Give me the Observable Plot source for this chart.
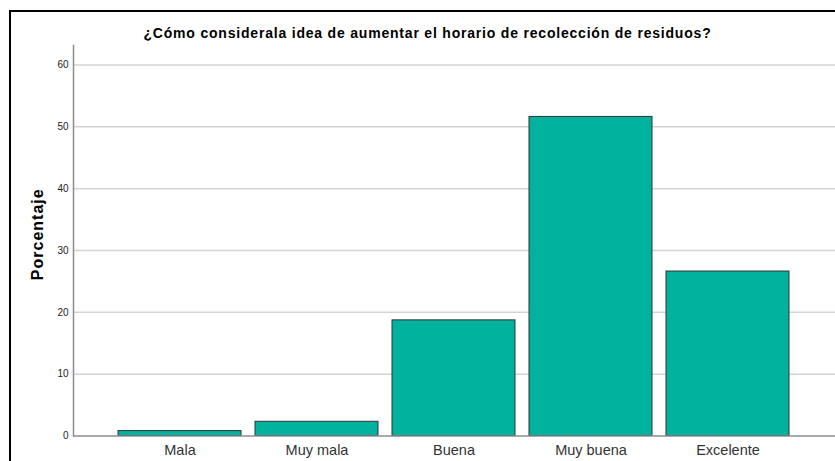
<!DOCTYPE html>
<html>
<head>
<meta charset="utf-8">
<script src="https://cdn.jsdelivr.net/npm/d3@7"></script>
<script src="https://cdn.jsdelivr.net/npm/@observablehq/plot@0.6"></script>
<style>
  html, body { margin: 0; padding: 0; background: #fff; }
  #wrap { position: relative; width: 835px; height: 461px; overflow: hidden; }
  #border { position: absolute; left: 9px; top: 10px; width: 900px; height: 500px;
            border-left: 2px solid #000; border-top: 2px solid #000; pointer-events: none; }
</style>
</head>
<body>
<div id="wrap"><div id="border"></div></div>
<script>
const title = "¿Cómo considerala idea de aumentar el horario de recolección de residuos?";
const yLabel = "Porcentaje";
const categories = ["Mala", "Muy mala", "Buena", "Muy buena", "Excelente"];
const values = [0.8, 2.3, 18.7, 51.6, 26.6];
const yTicks = [0, 10, 20, 30, 40, 50, 60];
const gridTicks = [10, 20, 30, 40, 50, 60];

const data = categories.map((c, i) => ({category: c, value: values[i]}));

const chart = Plot.plot({
  width: 835,
  height: 461,
  marginLeft: 73,
  marginRight: 0,
  marginTop: 45,
  marginBottom: 25.5,
  style: {fontFamily: "'Liberation Sans', Arial, sans-serif", background: "transparent"},
  x: {domain: categories, paddingInner: 0.1, paddingOuter: 0.33, label: null},
  y: {domain: [0, 63.15], label: null},
  marks: [
    Plot.ruleY(gridTicks, {stroke: "#d3d3d3", strokeWidth: 1.5}),
    Plot.barY(data, {x: "category", y: "value", fill: "#01b39f", stroke: "#333", strokeWidth: 1}),
    Plot.ruleY([0], {stroke: "#8c8c8c", strokeWidth: 1.5}),
    Plot.frame({anchor: "left", stroke: "#8c8c8c", strokeWidth: 1.5}),
    Plot.axisY({ticks: yTicks, tickSize: 0, tickPadding: 5, fontSize: 10, fill: "#222", label: null}),
    Plot.axisX({tickSize: 0, tickPadding: 9, fontSize: 14.5, fill: "#333", label: null}),
    Plot.text([yLabel], {frameAnchor: "left", textAnchor: "middle", rotate: -90, dx: -36, dy: -6.5, fontSize: 16, fontWeight: "bold", fill: "#000"}),
    Plot.text([title], {frameAnchor: "top", dx: -27, dy: -8, lineAnchor: "bottom", fontSize: 14, fontWeight: "bold", fill: "#000"})
  ]
});
document.getElementById("wrap").insertBefore(chart, document.getElementById("border"));
// letter spacing on the two label texts (styling only)
chart.querySelectorAll("text").forEach(t => {
  if (t.textContent === title) t.setAttribute("letter-spacing", "0.8");
  if (t.textContent === yLabel) t.setAttribute("letter-spacing", "1");
});
</script>
</body>
</html>
